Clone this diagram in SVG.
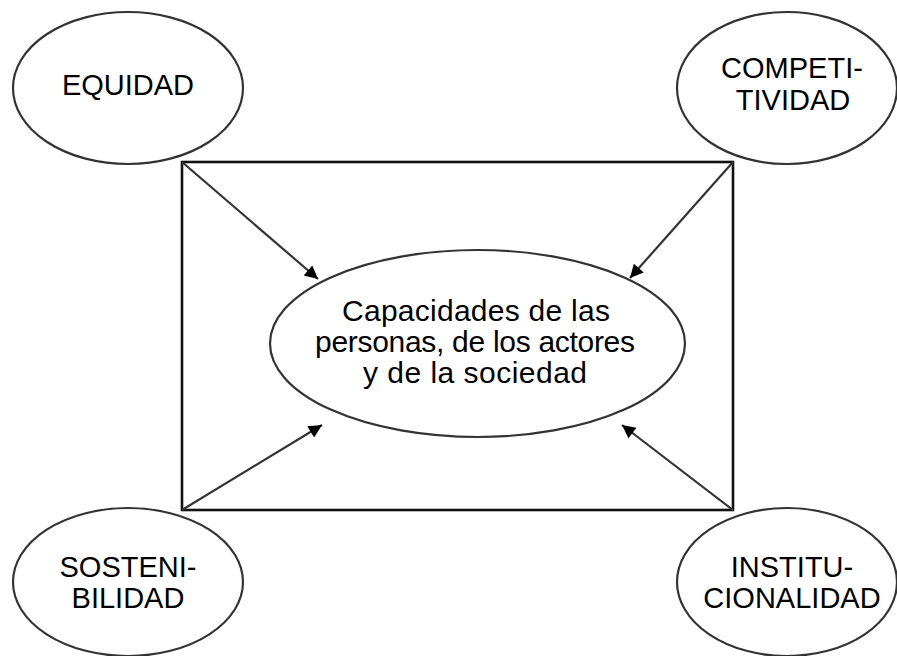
<svg xmlns="http://www.w3.org/2000/svg" width="897" height="656" viewBox="0 0 897 656">
<defs>
<style>
.node{fill:#fff;stroke:#333;stroke-width:2.2}
.lbl{font-family:"Liberation Sans",Arial,sans-serif;font-size:29px;fill:#000;text-anchor:middle}
.ctr{font-family:"Liberation Sans",Arial,sans-serif;font-size:30px;fill:#000;text-anchor:middle}
.conn{stroke:#333;stroke-width:2.2;fill:none;marker-end:url(#ah)}
.frame{fill:none;stroke:#111;stroke-width:2.6}
</style>
<marker id="ah" viewBox="0 0 10 10" refX="10" refY="5" markerWidth="7" markerHeight="6" orient="auto" markerUnits="strokeWidth">
<path d="M0,0 L10,5 L0,10 z" fill="#000"/>
</marker>
</defs>
<rect width="897" height="656" fill="#fff"/>
<rect class="frame" x="182" y="162" width="551" height="348"/>
<g id="connectors">
<line class="conn" x1="182" y1="162" x2="318" y2="279"/>
<line class="conn" x1="733" y1="162" x2="630" y2="278"/>
<line class="conn" x1="182" y1="510" x2="322" y2="425"/>
<line class="conn" x1="733" y1="510" x2="622" y2="425"/>
</g>
<g id="equidad">
<ellipse class="node" cx="128" cy="88" rx="115" ry="76"/>
<text class="lbl" x="128" y="95">EQUIDAD</text>
</g>
<g id="competitividad">
<ellipse class="node" cx="787" cy="88" rx="110" ry="76"/>
<text class="lbl" x="792" y="78">COMPETI-</text>
<text class="lbl" x="793" y="110">TIVIDAD</text>
</g>
<g id="sostenibilidad">
<ellipse class="node" cx="128" cy="582" rx="115" ry="74"/>
<text class="lbl" x="128" y="577">SOSTENI-</text>
<text class="lbl" x="128" y="608">BILIDAD</text>
</g>
<g id="institucionalidad">
<ellipse class="node" cx="787" cy="582" rx="110" ry="74"/>
<text class="lbl" x="792" y="577">INSTITU-</text>
<text class="lbl" x="792" y="608">CIONALIDAD</text>
</g>
<g id="capacidades">
<ellipse class="node" cx="477.5" cy="343.5" rx="207.5" ry="93.5"/>
<text class="ctr" x="476" y="321" textLength="268" lengthAdjust="spacing">Capacidades de las</text>
<text class="ctr" x="475" y="352" textLength="320" lengthAdjust="spacing">personas, de los actores</text>
<text class="ctr" x="475" y="383" textLength="224" lengthAdjust="spacing">y de la sociedad</text>
</g>
</svg>
